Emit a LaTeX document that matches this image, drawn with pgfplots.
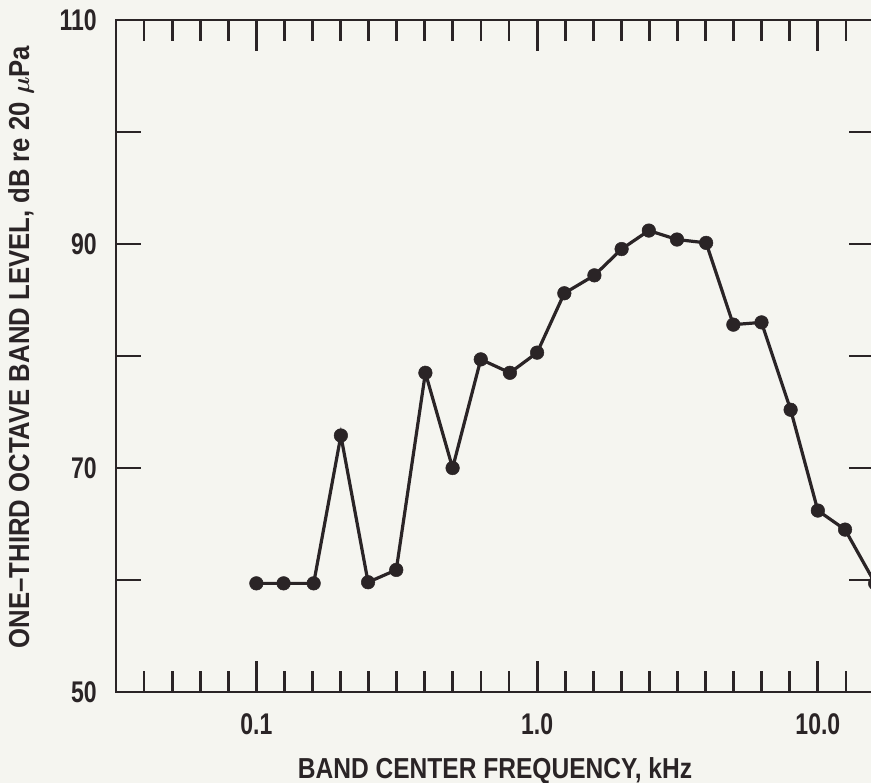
\documentclass[border=0pt]{standalone}
\usepackage{fontspec}
\usepackage{pgfplots}
\pgfplotsset{compat=1.18}
\setmainfont{Liberation Sans}
\newfontfamily\tickfont{Liberation Sans}[FakeStretch=0.77]
\newfontfamily\labfont{Liberation Sans}[FakeStretch=0.85]
\newfontfamily\ylabfont{Liberation Sans}[FakeStretch=0.89]
\definecolor{ink}{RGB}{42,36,38}
\definecolor{paper}{RGB}{245,245,240}
\begin{document}
\begin{tikzpicture}
\fill[paper] (-116bp,-91bp) rectangle (755bp,692bp);
\begin{axis}[
  at={(0,0)}, anchor=south west,
  scale only axis, width=758bp, height=672bp,
  xmode=log, xmin=0.0316228, xmax=15.8489,
  ymin=50, ymax=110,
  axis line style={ink, line width=2.4bp},
  xtick={0.1,1,10}, xticklabels={0.1,1.0,10.0},
  minor xtick={0.0398107,0.0501187,0.0630957,0.0794328,0.125893,0.158489,0.199526,0.251189,0.316228,0.398107,0.501187,0.630957,0.794328,1.25893,1.58489,1.99526,2.51189,3.16228,3.98107,5.01187,6.30957,7.94328,12.5893},
  ytick={50,60,70,80,90,100,110}, yticklabels={50,,70,,90,,110},
  tick align=inside,
  xtick style={ink, line width=2.8bp, /pgfplots/major tick length=31bp},
  minor x tick style={ink, line width=2.8bp},
  minor tick length=21bp,
  ytick style={ink, line width=2.8bp, /pgfplots/major tick length=25bp},
  xticklabel style={font=\tickfont\bfseries\fontsize{30}{30}\selectfont, text=ink, inner sep=0pt, anchor=north, yshift=-21bp},
  yticklabel style={font=\tickfont\bfseries\fontsize{30}{30}\selectfont, text=ink, inner sep=0pt, anchor=east, xshift=-19bp},
  xlabel={BAND CENTER FREQUENCY, kHz},
  ylabel={ONE–THIRD OCTAVE BAND LEVEL, dB re 20 {\boldmath$\mu$}Pa},
  xlabel style={font=\labfont\bfseries\fontsize{29}{29}\selectfont, text=ink, at={(axis description cs:0.5,0)}, anchor=north, inner sep=0pt, yshift=-65bp},
  ylabel style={font=\ylabfont\bfseries\fontsize{29}{29}\selectfont, text=ink, at={(axis description cs:0,0.5)}, anchor=center, inner sep=0pt, yshift=95bp, xshift=9bp},
  clip=false,
]
\addplot[ink, line width=3.2bp, mark=*, mark size=6.8bp, mark options={fill=ink, draw=ink, line width=0.5bp}] coordinates {
(0.1,59.7) (0.125,59.7) (0.16,59.7) (0.2,72.9) (0.25,59.8) (0.315,60.9)
(0.4,78.5) (0.5,70.0) (0.63,79.7) (0.8,78.5) (1.0,80.3) (1.25,85.6)
(1.6,87.2) (2.0,89.55) (2.5,91.2) (3.15,90.4) (4.0,90.1) (5.0,82.8)
(6.3,83.0) (8.0,75.2) (10,66.2) (12.5,64.5) (16,59.7)
};
\end{axis}
\pgfresetboundingbox
\useasboundingbox (-116bp,-91bp) rectangle (755bp,692bp);
\end{tikzpicture}
\end{document}
